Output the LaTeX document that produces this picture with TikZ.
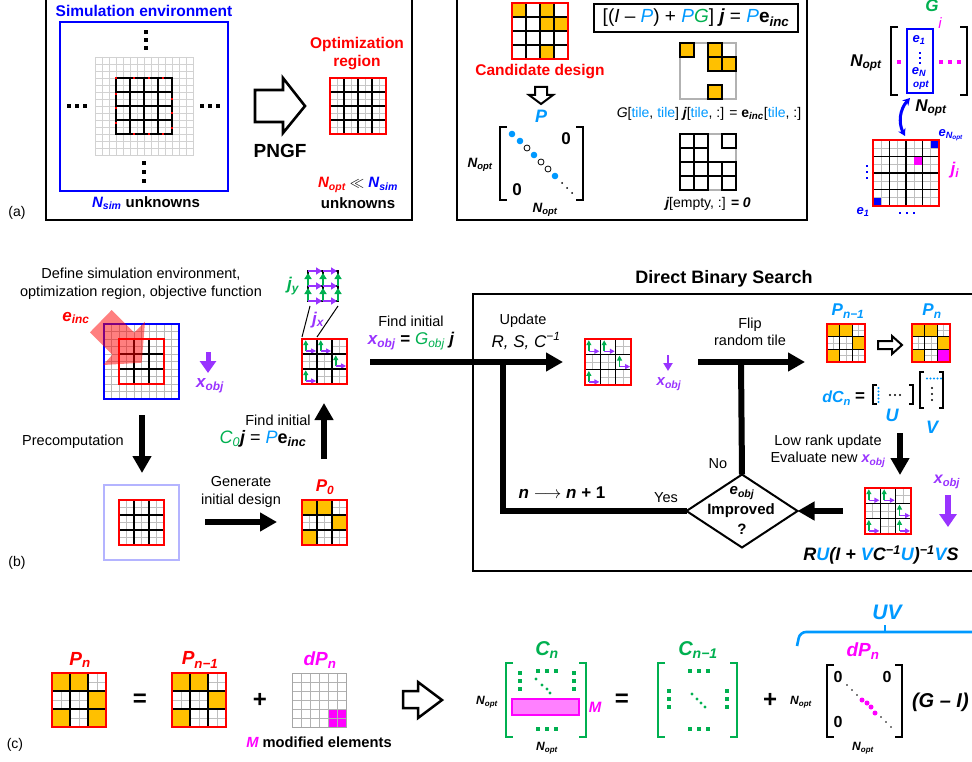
\documentclass[tikz,border=0pt]{standalone}
\usepackage{fontspec}
\setmainfont{Liberation Sans}
\usetikzlibrary{arrows.meta,shapes.geometric}
\definecolor{cred}{RGB}{255,0,0}
\definecolor{cblue}{RGB}{0,0,255}
\definecolor{lblue}{RGB}{0,153,255}
\definecolor{cgreen}{RGB}{0,176,80}
\definecolor{cpurp}{RGB}{153,51,255}
\definecolor{cmag}{RGB}{255,0,255}
\definecolor{orng}{RGB}{255,192,0}
\definecolor{lav}{RGB}{180,180,255}
\newcommand\myfs[1]{\fontsize{#1}{#1}\selectfont}
\newcommand\bitx[1]{{\bfseries\itshape #1}}
\newcommand\itx[1]{{\itshape #1}}
\newcommand\sbs[1]{\textsubscript{#1}}
\newcommand\sps[1]{\textsuperscript{#1}}
% internal grid lines: x y size n style
\newcommand\fine[5]{%
  \pgfmathtruncatemacro\mynm{#4-1}%
  \foreach \k in {1,...,\mynm}{%
    \draw[#5] ({#1+\k*#3/#4},#2) -- ++(0,#3);
    \draw[#5] (#1,{#2+\k*#3/#4}) -- ++(#3,0);
  }}
\newcommand\gbase[4]{\fill[white] (#1,#2) rectangle ++(#3,#3);
  \fine{#1}{#2}{#3}{#4}{gray!50, line width=0.6pt}}
\newcommand\gtop[5]{\fine{#1}{#2}{#3}{#4}{black, line width=1.3pt}
  \draw[#5, line width=2.2pt] (#1,#2) rectangle ++(#3,#3);}
\newcommand\gcell[6]{\fill[#6] ({#1+#4*#3},{#2+#5*#3}) rectangle ++(#3,#3);}
\newcommand\larr[5]{%
  \draw[cgreen, line width=1.5pt, -{Triangle[length=5pt,width=5pt]}] ({#1+(#4+0.25)*#3},{#2+(#5+0.8)*#3}) -- ({#1+(#4+0.25)*#3},{#2+(#5+0.08)*#3});
  \draw[cpurp, line width=1.5pt, -{Triangle[length=5pt,width=5pt]}] ({#1+(#4+0.25)*#3},{#2+(#5+0.8)*#3}) -- ({#1+(#4+0.94)*#3},{#2+(#5+0.8)*#3});}
\newcommand\sq[3]{\fill[#1] (#2,#3) +(-1.8,-1.8) rectangle +(1.8,1.8);}
\begin{document}
\begin{tikzpicture}[x=1pt,y=-1pt,
  every node/.style={inner sep=0pt,outer sep=0pt},
  t13/.style={font=\myfs{14.5}},
  t2l/.style={align=center,font=\fontsize{14.5}{17.5}\selectfont},
  fat/.style={line width=6pt,line join=miter,-{Triangle[length=17pt,width=18pt]}},
  fatline/.style={line width=6pt,line join=miter},
  hollow/.style={draw=black,fill=white,line width=2.3pt,line join=miter},
  brk/.style={line width=2.6pt,line join=miter}]
\useasboundingbox (0,0) rectangle (972,762);
\fill[white] (0,0) rectangle (972,762);

%% ================= (a) left box
\draw[line width=2pt] (46,-5) rectangle (412,220);
\node[font=\bfseries\myfs{15.5},text=cblue] (simt) at (144,11) {Simulation environment};
\draw[cblue,line width=1.8pt] (60,22) rectangle (228,191);
\fine{95}{57}{98}{14}{gray!35,line width=0.7pt}
\draw[gray!35,line width=0.7pt] (95,57) rectangle ++(98,98);
\fine{116}{78}{56}{4}{black,line width=1.3pt}
\draw[black,line width=1.3pt] (116,78) rectangle ++(56,56);
\foreach \p/\q in {116/78,134/78,149/78,163/78,172/99,172/113,172/128,116/94,116/108,116/123,134/134,149/134,163/134}
  {\fill[cred] (\p,\q) +(-1.4,-1.4) rectangle +(1.4,1.4);}
\foreach \yy in {32,40,48} {\sq{black}{146}{\yy}}
\foreach \yy in {163,172,181} {\sq{black}{144}{\yy}}
\foreach \xx in {69,77,85} {\sq{black}{\xx}{106}}
\foreach \xx in {202,210,218} {\sq{black}{\xx}{106}}
\node[font=\bfseries\myfs{15}] (nsim) at (146,203) {\textcolor{cblue}{\itshape N\sbs{sim}} unknowns};
\draw[hollow,line width=2.6pt] (255,90) -- (283,90) -- (283,78) -- (305,106) -- (283,133) -- (283,122) -- (255,122) -- cycle;
\node[font=\bfseries\myfs{19}] (pngf) at (280,151) {PNGF};
\node[font=\bfseries\fontsize{15.5}{18}\selectfont,text=cred,align=center] (optr) at (357,54) {Optimization\\region};
\fill[white] (330,78) rectangle ++(56,56);
\fine{330}{78}{56}{8}{gray!45,line width=0.6pt}
\fine{330}{78}{56}{4}{black,line width=1.3pt}
\draw[cred,line width=2.4pt] (330,78) rectangle ++(56,56);
\node[font=\bfseries\myfs{15}] (nll) at (358,185) {\textcolor{cred}{\itshape N\sbs{opt}} $\ll$ \textcolor{cblue}{\itshape N\sbs{sim}}};
\node[font=\bfseries\myfs{15}] (unk) at (358,203) {unknowns};
\node[font=\myfs{14}] (la) at (17,213) {(a)};

%% ================= (a) middle box
\draw[line width=2pt] (457,-5) rectangle (807,220);
\fill[white] (512,3) rectangle ++(56,56);
\foreach \c/\r in {0/0,2/0,2/1,3/1,2/3} {\gcell{512}{3}{14}{\c}{\r}{orng}}
\fine{512}{3}{56}{4}{black,line width=1.1pt}
\draw[cred,line width=2.2pt] (512,3) rectangle ++(56,56);
\node[font=\bfseries\myfs{15.5},text=cred] (cand) at (540,72) {Candidate design};
\draw[hollow,line width=2pt] (535,87) -- (547,87) -- (547,95) -- (553,95) -- (541,104) -- (529,95) -- (535,95) -- cycle;
\node[font=\bfseries\itshape\myfs{18},text=lblue] (plab) at (541,116) {P};
\draw[brk] (507,127) -- (500,127) -- (500,200) -- (507,200);
\draw[brk] (576,127) -- (583,127) -- (583,200) -- (576,200);
\foreach \p/\q in {512/134,520/141,534/155,555/176} {\fill[lblue] (\p,\q) circle (3.3);}
\foreach \p/\q in {527/148,541/162,548/169} {\draw[line width=0.8pt] (\p,\q) circle (3);}
\foreach \p/\q in {562/183,567/188,572/193} {\fill (\p,\q) circle (1);}
\node[font=\bfseries\myfs{17}] (z1) at (566,139) {0};
\node[font=\bfseries\myfs{17}] (z2) at (517,190) {0};
\node[font=\bfseries\itshape\myfs{13.5}] (no1) at (480,165) {N\sbs{opt}};
\node[font=\bfseries\itshape\myfs{13.5}] (no2) at (545,210) {N\sbs{opt}};
\node[draw,line width=1.5pt,minimum width=204pt,minimum height=28pt] (eqb) at (696,18) {};
\node[font=\myfs{19}] (eqt) at (eqb.center) {[(\itx{I} – \textcolor{lblue}{\itx{P}}) + \textcolor{lblue}{\itx{P}}\textcolor{cgreen}{\itx{G}}] \bitx{j} = \textcolor{lblue}{\itx{P}}\textbf{e}\sbs{\bitx{inc}}};
\draw[gray!60,line width=1.3pt] (680,43) rectangle ++(56,56);
\foreach \c/\r in {0/0,2/0,2/1,3/1,2/3} {\draw[fill=orng,line width=1.3pt] ({680+\c*14},{43+\r*14}) rectangle ++(14,14);}
\node[font=\myfs{14}] (gt) at (709,114) {\itx{G}[\textcolor{lblue}{tile}, \textcolor{lblue}{tile}] \bitx{j}[\textcolor{lblue}{tile}, :] = \textbf{e}\sbs{\bitx{inc}}[\textcolor{lblue}{tile}, :]};
\draw[gray!60,line width=1.3pt] (680,134) rectangle ++(56,56);
\foreach \c/\r in {0/0,1/0,3/0,0/1,1/1,0/2,1/2,2/2,3/2,0/3,1/3,3/3} {\draw[line width=1.3pt] ({680+\c*14},{134+\r*14}) rectangle ++(14,14);}
\node[font=\myfs{14}] (je) at (708,204) {\bitx{j}[empty, :] \bitx{= 0}};

%% ================= (a) right: G
\node[font=\bfseries\itshape\myfs{17},text=cgreen] (gl) at (932,6) {G};
\node[font=\itshape\myfs{15},text=cmag] (il) at (940,23) {i};
\draw[brk] (898,27) -- (891,27) -- (891,95) -- (898,95);
\draw[brk] (960,27) -- (967,27) -- (967,95) -- (960,95);
\draw[cblue,line width=2pt] (907,29) rectangle (933,93);
\node[font=\bfseries\itshape\myfs{13},text=cblue] (e1a) at (919,40) {e\sbs{1}};
\foreach \yy in {53,58,63} {\fill[cblue] (920,\yy) +(-1.2,-1.2) rectangle +(1.2,1.2);}
\node[font=\bfseries\itshape\myfs{13},text=cblue] (ena) at (919,72) {e\sbs{N}};
\node[font=\bfseries\itshape\myfs{10},text=cblue] (opta) at (921,85) {opt};
\sq{cmag}{899}{62}
\foreach \xx in {941,950,959} {\sq{cmag}{\xx}{62}}
\node[font=\bfseries\itshape\myfs{17}] (nog) at (866,63) {N\sbs{opt}};
\node[font=\bfseries\itshape\myfs{17}] (nog2) at (931,108) {N\sbs{opt}};
\coordinate (ca1) at (910,98);
\coordinate (ca2) at (905,136);
\draw[cblue,line width=3pt,{Stealth[length=7pt,width=8pt]}-{Stealth[length=7pt,width=8pt]}] (ca1) to[bend right=35] (ca2);
\fill[white] (873,140) rectangle ++(66,66);
\fine{873}{140}{66}{8}{gray!50,line width=0.6pt}
\gcell{873}{140}{8.25}{0}{7}{cblue}
\gcell{873}{140}{8.25}{7}{0}{cblue}
\gcell{873}{140}{8.25}{5}{2}{cmag}
\fine{873}{140}{66}{4}{black,line width=1.3pt}
\draw[cred,line width=2.2pt] (873,140) rectangle ++(66,66);
\node[font=\bfseries\itshape\myfs{13},text=cblue] (enb) at (951,135) {e\sbs{N\sbs{opt}}};
\node[font=\bfseries\itshape\myfs{17},text=cmag] (ji) at (955,170) {j\sbs{i}};
\foreach \yy in {166,172,178} {\fill[cblue] (867,\yy) +(-1.4,-1.4) rectangle +(1.4,1.4);}
\node[font=\bfseries\itshape\myfs{13},text=cblue] (e1b) at (863,212) {e\sbs{1}};
\foreach \xx in {900,907,914} {\fill[cblue] (\xx,213) +(-1.4,-1.4) rectangle +(1.4,1.4);}

%% ================= (b) left part
\node[t2l] (def) at (141,284) {Define simulation environment,\\optimization region, objective function};
\node[font=\myfs{14}] (lb) at (17,563) {(b)};
\fill[white] (104,324) rectangle ++(75,75);
\fine{104}{324}{75}{10}{gray!55,line width=0.6pt}
\fine{119}{339}{45}{3}{black,line width=1.3pt}
\draw[cred,line width=2pt] (119,339) rectangle ++(45,45);
\draw[cblue,line width=2pt] (104,324) rectangle ++(75,75);
\fill[cred,opacity=0.5] (111.7,310) -- (134.3,332.7) -- (145,321.7) -- (141.7,362.7) -- (103.3,365) -- (112.3,354.7) -- (90,332.3) -- cycle;
\node[font=\bfseries\itshape\myfs{17},text=cred] (einc) at (76,318) {e\sbs{inc}};
\coordinate (xa1) at (208,352);
\coordinate (xa2) at (208,373);
\draw[cpurp,line width=5pt,-{Triangle[length=12pt,width=16pt]}] (xa1) -- (xa2);
\node[font=\bfseries\itshape\myfs{17},text=cpurp] (xobj1) at (210,386) {x\sbs{obj}};
\coordinate (pa1) at (142,415);
\coordinate (pa2) at (142,473);
\draw[fat] (pa1) -- (pa2);
\node[t13] (prec) at (73,442) {Precomputation};
\draw[lav,line width=2.2pt] (104,485) rectangle ++(75,75);
\gbase{119}{500}{45}{6}
\gtop{119}{500}{45}{3}{cred}
\node[t2l] (gen) at (241,492) {Generate\\initial design};
\coordinate (ga1) at (205,522);
\coordinate (ga2) at (277,522);
\draw[fat] (ga1) -- (ga2);
\node[font=\bfseries\itshape\myfs{17},text=cred] (p0) at (325,487) {P\sbs{0}};
\gbase{302}{500}{45}{6}
\foreach \c/\r in {0/0,1/0,2/1,0/2} {\gcell{302}{500}{15}{\c}{\r}{orng}}
\gtop{302}{500}{45}{3}{cred}
\coordinate (ua1) at (324,459);
\coordinate (ua2) at (324,403);
\draw[fat] (ua1) -- (ua2);
\node[t13] (fi1) at (278,420) {Find initial};
\node[font=\myfs{18}] (c0) at (263,439) {\textcolor{cgreen}{\itx{C}\sbs{\itx{0}}}\bitx{j} = \textcolor{lblue}{\itx{P}}\textbf{e}\sbs{\bitx{inc}}};
\gbase{302}{339}{45}{6}
\foreach \c/\r in {0/0,1/0,2/1,0/2} {\gcell{302}{339}{15}{\c}{\r}{white}}
\foreach \c/\r in {0/0,1/0,2/1,0/2} {\larr{302}{339}{15}{\c}{\r}}
\gtop{302}{339}{45}{3}{cred}
% lattice
\draw[line width=1.2pt] (308,271) rectangle ++(30,30);
\draw[line width=1.2pt] (323,271) -- ++(0,30) (308,286) -- ++(30,0);
\foreach \xx in {308,323,338} {\foreach \yy in {286,301} {\draw[cgreen,line width=2.2pt,-{Triangle[length=6pt,width=7pt]}] (\xx,\yy) -- ++(0,-13);}}
\foreach \yy in {271,286,301} {\foreach \xx in {308,323} {\draw[cpurp,line width=2.2pt,-{Triangle[length=6pt,width=7pt]}] (\xx,\yy) -- ++(14,0);}}
\coordinate (lz1) at (310,306);
\coordinate (lz2) at (302,337);
\coordinate (lz3) at (338,306);
\coordinate (lz4) at (317,337);
\draw[line width=1pt] (lz1) -- (lz2) (lz3) -- (lz4);
\node[font=\bfseries\itshape\myfs{17},text=cgreen] (jy) at (293,286) {j\sbs{y}};
\node[font=\bfseries\itshape\myfs{17},text=cpurp] (jx) at (318,320) {j\sbs{x}};
\node[t13] (fi2) at (411,321) {Find initial};
\node[font=\myfs{17}] (xg) at (411,341) {\textcolor{cpurp}{\bitx{x}\sbs{\bitx{obj}}} \textbf{=} \textcolor{cgreen}{\itx{G}\sbs{\itx{obj}}} \bitx{j}};

%% ================= (b) DBS
\node[font=\bfseries\myfs{18}] (dbs) at (724,279) {Direct Binary Search};
\draw[line width=2pt] (473,294) rectangle (1000,571);
\coordinate (m0) at (370,362);
\coordinate (m1) at (563,362);
\coordinate (jn1) at (503,362);
\draw[fat] (m0) -- (m1);
\node[t13] (upd) at (523,321) {Update};
\node[font=\itshape\myfs{17}] (rsc) at (526,341) {R, S, C\sps{−1}};
\gbase{585}{339}{46}{6}
\foreach \c/\r in {0/0,1/0,2/1,0/2} {\gcell{585}{339}{15.333}{\c}{\r}{white}}
\foreach \c/\r in {0/0,1/0,2/1,0/2} {\larr{585}{339}{15.333}{\c}{\r}}
\gtop{585}{339}{46}{3}{cred}
\coordinate (xs1) at (668,355);
\coordinate (xs2) at (668,371);
\draw[cpurp,line width=2.5pt,-{Triangle[length=8pt,width=9pt]}] (xs1) -- (xs2);
\node[font=\bfseries\itshape\myfs{15},text=cpurp] (xobj2) at (669,384) {x\sbs{obj}};
\coordinate (f0) at (698,362);
\coordinate (f1) at (805,362);
\coordinate (jn2) at (741,362);
\draw[fat] (f0) -- (f1);
\node[t2l] (flip) at (750,332) {Flip\\random tile};
\node[draw,diamond,line width=2pt,minimum width=111pt,minimum height=73pt] (dia) at (742,511) {};
\node[font=\bfseries\itshape\myfs{15}] (eobj) at (742,493) {e\sbs{obj}};
\node[font=\bfseries\myfs{15}] (impr) at (741,511) {Improved};
\node[font=\bfseries\myfs{15}] (qm) at (742,529) {?};
\draw[fatline] (dia.north) -- (jn2);
\draw[fatline] (jn1) |- (dia.west);
\node[t13] (no) at (718,464) {No};
\node[t13] (yes) at (666,498) {Yes};
\node[font=\myfs{17}] (nn) at (562,493) {\bitx{n} $\longrightarrow$ \bitx{n} \textbf{+ 1}};
\coordinate (r0) at (843,511);
\draw[fat] (r0) -- (dia.east);
\gbase{865}{488}{46}{6}
\foreach \c/\r in {0/0,1/0,2/1,0/2,2/2} {\gcell{865}{488}{15.333}{\c}{\r}{white}}
\foreach \c/\r in {0/0,1/0,2/1,0/2,2/2} {\larr{865}{488}{15.333}{\c}{\r}}
\gtop{865}{488}{46}{3}{cred}
\node[font=\bfseries\itshape\myfs{16},text=cpurp] (xobj3) at (947,482) {x\sbs{obj}};
\coordinate (xb1) at (948,495);
\coordinate (xb2) at (948,527);
\draw[cpurp,line width=6pt,-{Triangle[length=13pt,width=17pt]}] (xb1) -- (xb2);
\node[font=\bfseries\itshape\myfs{18}] (ru) at (881,555) {R\textcolor{lblue}{U}(I + \textcolor{lblue}{V}C\sps{−1}\textcolor{lblue}{U})\sps{−1}\textcolor{lblue}{V}S};
\node[t2l] (lru) at (828,451) {Low rank update\\Evaluate new \textcolor{cpurp}{\bitx{x}\sbs{\bitx{obj}}}};
\coordinate (d0) at (900,433);
\coordinate (d1) at (900,475);
\draw[fat] (d0) -- (d1);
\node[font=\bfseries\itshape\myfs{17},text=lblue] (pn1) at (848,311) {P\sbs{n−1}};
\node[font=\bfseries\itshape\myfs{17},text=lblue] (pn) at (932,311) {P\sbs{n}};
\gbase{827}{324}{38}{6}
\foreach \c/\r in {0/0,1/0,2/1,0/2} {\gcell{827}{324}{12.667}{\c}{\r}{orng}}
\gtop{827}{324}{38}{3}{cred}
\gbase{912}{324}{38}{6}
\foreach \c/\r in {0/0,1/0,2/1,0/2} {\gcell{912}{324}{12.667}{\c}{\r}{orng}}
\gcell{912}{324}{12.667}{2}{2}{cmag}
\gtop{912}{324}{38}{3}{cred}
\draw[hollow,line width=2pt] (878,341) -- (892,341) -- (892,336) -- (902,345) -- (892,354) -- (892,349) -- (878,349) -- cycle;
\node[font=\bfseries\itshape\myfs{16},text=lblue,anchor=east] (dcn) at (851,398) {dC\sbs{n}};
\node[font=\bfseries\myfs{17}] (eqd) at (860,397) {=};
\draw[line width=1.5pt] (877,385) -- (873,385) -- (873,404) -- (877,404);
\draw[line width=1.5pt] (909,385) -- (913,385) -- (913,404) -- (909,404);
\foreach \yy in {388,391.5,395,398.5,402} {\fill[lblue] (878.5,\yy) circle (1.1);}
\foreach \xx in {890,895,900} {\fill (\xx,395) circle (1.1);}
\draw[line width=1.5pt] (924,372) -- (920,372) -- (920,408) -- (924,408);
\draw[line width=1.5pt] (939,372) -- (943,372) -- (943,408) -- (939,408);
\foreach \xx in {927,930.5,934,937.5,941} {\fill[lblue] (\xx,378.5) circle (1.1);}
\foreach \yy in {388,394,400} {\fill (932,\yy) circle (1.1);}
\node[font=\bfseries\itshape\myfs{18},text=lblue] (ul) at (892,415) {U};
\node[font=\bfseries\itshape\myfs{18},text=lblue] (vl) at (932,427) {V};

%% ================= (c)
\node[font=\myfs{14}] (lc) at (15,745) {(c)};
\node[font=\bfseries\itshape\myfs{19},text=cred] (cpn) at (80,660) {P\sbs{n}};
\gbase{52}{673}{54}{6}
\foreach \c/\r in {0/0,1/0,2/1,0/2,2/2} {\gcell{52}{673}{18}{\c}{\r}{orng}}
\gtop{52}{673}{54}{3}{cred}
\node[font=\bfseries\myfs{24}] (eq1) at (140,700) {=};
\node[font=\bfseries\itshape\myfs{19},text=cred] (cpn1) at (200,660) {P\sbs{n−1}};
\gbase{172}{673}{54}{6}
\foreach \c/\r in {0/0,1/0,2/1,0/2} {\gcell{172}{673}{18}{\c}{\r}{orng}}
\gtop{172}{673}{54}{3}{cred}
\node[font=\bfseries\myfs{24}] (pl1) at (260,700) {+};
\node[font=\bfseries\itshape\myfs{19},text=cmag] (cdp) at (320,660) {dP\sbs{n}};
\fill[white] (292,673) rectangle ++(54,54);
\foreach \c/\r in {4/4,5/4,4/5,5/5} {\gcell{292}{673}{9}{\c}{\r}{cmag}}
\fine{292}{673}{54}{6}{gray!60,line width=0.8pt}
\draw[gray!70,line width=1pt] (292,673) rectangle ++(54,54);
\node[font=\bfseries\myfs{14.7}] (mod) at (319,742) {\textcolor{cmag}{\itshape M} modified elements};
\draw[hollow,line width=2.5pt] (403,691) -- (418,691) -- (418,682) -- (442,700) -- (418,718) -- (418,708) -- (403,708) -- cycle;
\node[font=\bfseries\itshape\myfs{20},text=cgreen] (ccn) at (547,650) {C\sbs{n}};
\draw[cgreen,brk] (513,663) -- (506,663) -- (506,737) -- (513,737);
\draw[cgreen,brk] (579,663) -- (586,663) -- (586,737) -- (579,737);
\draw[cmag,fill=cmag!50,line width=2pt] (512,699) rectangle (579,715);
\node[font=\bfseries\itshape\myfs{15},text=cmag] (mm) at (595,707) {M};
\foreach \xx in {538,547,556} {\sq{cgreen}{\xx}{671}\sq{cgreen}{\xx}{729}}
\foreach \yy in {673,681,689} {\sq{cgreen}{520}{\yy}\sq{cgreen}{574}{\yy}}
\foreach \p/\q in {536/679,542/685,547/689,550/693} {\fill[cgreen] (\p,\q) circle (1.7);}
\node[font=\bfseries\itshape\myfs{12}] (nc1) at (487,702) {N\sbs{opt}};
\node[font=\bfseries\itshape\myfs{12}] (nc2) at (547,748) {N\sbs{opt}};
\node[font=\bfseries\myfs{24}] (eq2) at (622,700) {=};
\node[font=\bfseries\itshape\myfs{20},text=cgreen] (ccn1) at (698,650) {C\sbs{n−1}};
\draw[cgreen,brk] (665,663) -- (658,663) -- (658,737) -- (665,737);
\draw[cgreen,brk] (730,663) -- (737,663) -- (737,737) -- (730,737);
\foreach \xx in {690,699,708} {\sq{cgreen}{\xx}{671}\sq{cgreen}{\xx}{729}}
\foreach \yy in {691,699,707} {\sq{cgreen}{669}{\yy}\sq{cgreen}{727}{\yy}}
\foreach \p/\q in {692/694,697/699,701/703,705/707} {\fill[cgreen] (\p,\q) circle (1.7);}
\node[font=\bfseries\myfs{24}] (pl2) at (770,700) {+};
\coordinate (br0) at (797,646);
\coordinate (br1) at (1010,646);
\coordinate (brt) at (885,625);
\draw[lblue,line width=2.6pt,rounded corners=6pt] (br0) -- (800,632) -- (1005,632) -- (br1);
\draw[lblue,line width=2.6pt] (885,632) -- (brt);
\node[font=\bfseries\itshape\myfs{21},text=lblue] (uv) at (887,612) {UV};
\node[font=\bfseries\itshape\myfs{19},text=cmag] (cdp2) at (863,651) {dP\sbs{n}};
\draw[brk] (834,665) -- (827,665) -- (827,737) -- (834,737);
\draw[brk] (895,665) -- (902,665) -- (902,737) -- (895,737);
\node[font=\bfseries\myfs{16}] (z3) at (838,677) {0};
\node[font=\bfseries\myfs{16}] (z4) at (887,677) {0};
\node[font=\bfseries\myfs{16}] (z5) at (838,722) {0};
\foreach \p/\q in {847/685,852/690,857/695,881/717,886/722,891/727} {\fill (\p,\q) circle (0.9);}
\foreach \p/\q in {862/700,867/703,871/707,875/713} {\fill[cmag] (\p,\q) circle (2.5);}
\node[font=\bfseries\itshape\myfs{12}] (nd1) at (801,702) {N\sbs{opt}};
\node[font=\bfseries\itshape\myfs{12}] (nd2) at (863,748) {N\sbs{opt}};
\node[font=\bfseries\itshape\myfs{20},anchor=west] (gmi) at (912,702) {(G – I)};
\end{tikzpicture}
\end{document}
